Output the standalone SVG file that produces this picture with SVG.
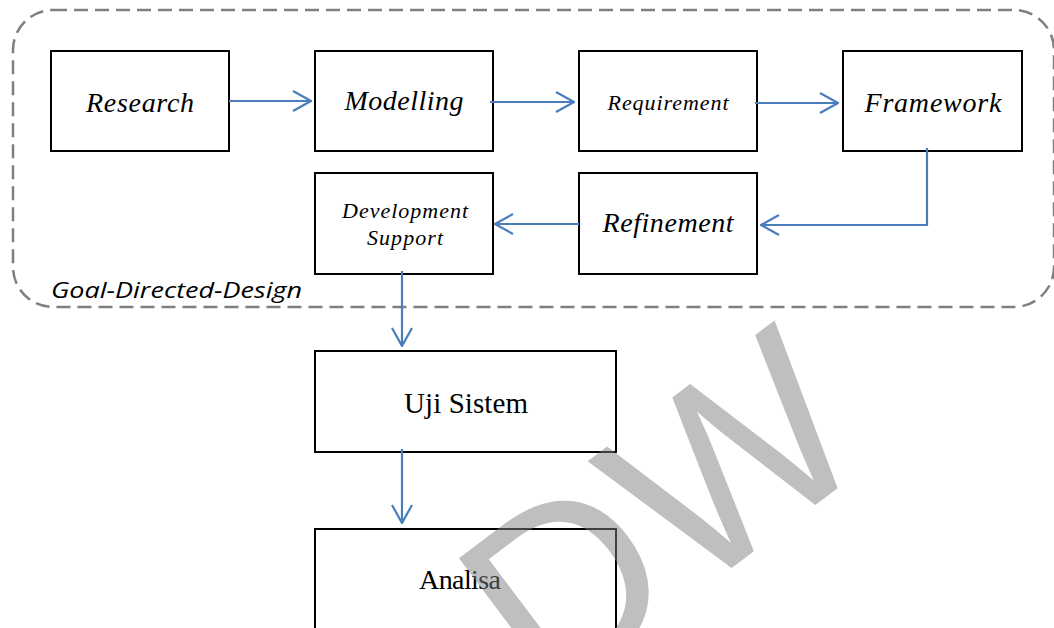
<svg xmlns="http://www.w3.org/2000/svg" width="1054" height="628" viewBox="0 0 1054 628">
<defs>
<style>
.box{fill:#fff;stroke:#000;stroke-width:2}
.it{font-family:"Liberation Serif","Times New Roman",serif;font-style:italic;fill:#000;text-anchor:middle}
.rm{font-family:"Liberation Serif","Times New Roman",serif;fill:#000;text-anchor:middle}
.conn{fill:none;stroke:#4a7ebb;stroke-width:2.2}
.wm{font-family:"Liberation Sans",Arial,sans-serif;fill:#808080;opacity:0.5}
</style>
<marker id="arr" viewBox="0 0 20 22" refX="19" refY="11" markerWidth="20" markerHeight="22" markerUnits="userSpaceOnUse" orient="auto">
<path d="M1,1 L19,11 L1,21" fill="none" stroke="#4a7ebb" stroke-width="2.2"/>
</marker>
</defs>
<rect width="1054" height="628" fill="#fff"/>
<g id="group-gdd">
<rect x="13" y="10" width="1041" height="297" rx="40" ry="40" fill="none" stroke="#7f7f7f" stroke-width="2.5" stroke-dasharray="14 7"/>
<text x="51" y="298" font-family="'Open Sans','Noto Sans',sans-serif" font-style="italic" font-size="22" textLength="251" lengthAdjust="spacingAndGlyphs" fill="#000">Goal-Directed-Design</text>
</g>
<g id="research"><rect class="box" x="51" y="51" width="178" height="100"/><text class="it" x="140" y="112" font-size="28" textLength="108">Research</text></g>
<g id="modelling"><rect class="box" x="315" y="51" width="178" height="100"/><text class="it" x="404" y="110" font-size="28" textLength="119">Modelling</text></g>
<g id="requirement"><rect class="box" x="579" y="51" width="178" height="100"/><text class="it" x="668" y="110" font-size="22" textLength="121">Requirement</text></g>
<g id="framework"><rect class="box" x="843" y="51" width="179" height="100"/><text class="it" x="933" y="112" font-size="28" textLength="137">Framework</text></g>
<g id="refinement"><rect class="box" x="579" y="173" width="178" height="101"/><text class="it" x="668" y="232" font-size="28" textLength="131">Refinement</text></g>
<g id="development"><rect class="box" x="315" y="173" width="178" height="101"/><text class="it" x="405" y="218" font-size="22" textLength="126">Development</text><text class="it" x="405" y="245" font-size="22" textLength="76">Support</text></g>
<g id="uji"><rect class="box" x="315" y="351" width="301" height="101"/><text class="rm" x="466" y="413" font-size="29" textLength="124">Uji Sistem</text></g>
<g id="analisa"><rect class="box" x="315" y="529" width="301" height="110"/><text class="rm" x="460" y="589" font-size="28" textLength="82">Analisa</text></g>
<g id="connectors">
<path class="conn" d="M229,101 H311" marker-end="url(#arr)"/>
<path class="conn" d="M490,102 H574" marker-end="url(#arr)"/>
<path class="conn" d="M755,103 H838" marker-end="url(#arr)"/>
<path class="conn" d="M927,148 V225 H761" marker-end="url(#arr)"/>
<path class="conn" d="M579,224 H495" marker-end="url(#arr)"/>
<path class="conn" d="M402,271 V346" marker-end="url(#arr)"/>
<path class="conn" d="M402,449 V523" marker-end="url(#arr)"/>
</g>
<g id="watermark">
<text class="wm" x="546" y="708" font-size="250" transform="rotate(-37 546 708)">DW</text>
</g>
</svg>
